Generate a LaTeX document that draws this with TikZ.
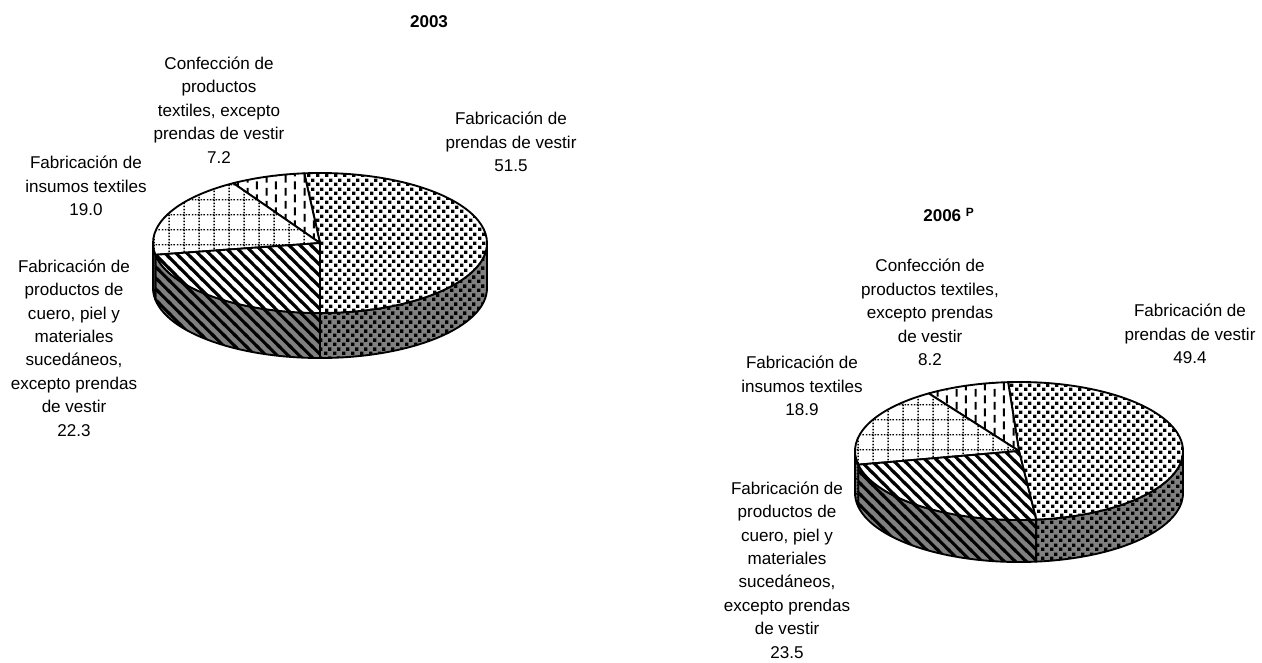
\documentclass[tikz,border=0pt]{standalone}
\usepackage{fontspec}
\setmainfont{Liberation Sans}
\usetikzlibrary{patterns}

% fill patterns of the slices
\pgfdeclarepatternformonly{sqdots}{\pgfqpoint{0pt}{0pt}}{\pgfqpoint{6.4pt}{6.4pt}}{\pgfqpoint{6.4pt}{6.4pt}}{%
  \pgfpathrectangle{\pgfqpoint{0pt}{0pt}}{\pgfqpoint{2.7pt}{2.7pt}}%
  \pgfpathrectangle{\pgfqpoint{3.2pt}{3.2pt}}{\pgfqpoint{2.7pt}{2.7pt}}%
  \pgfusepath{fill}}
\pgfdeclarepatternformonly{vdashes}{\pgfqpoint{0pt}{0pt}}{\pgfqpoint{14pt}{10pt}}{\pgfqpoint{14pt}{10pt}}{%
  \pgfsetlinewidth{1.5pt}%
  \pgfpathmoveto{\pgfqpoint{3.5pt}{1pt}}\pgfpathlineto{\pgfqpoint{3.5pt}{7pt}}%
  \pgfpathmoveto{\pgfqpoint{10.5pt}{6pt}}\pgfpathlineto{\pgfqpoint{10.5pt}{10pt}}%
  \pgfpathmoveto{\pgfqpoint{10.5pt}{0pt}}\pgfpathlineto{\pgfqpoint{10.5pt}{2pt}}%
  \pgfusepath{stroke}}
\pgfdeclarepatternformonly{dotgrid}{\pgfqpoint{0pt}{0pt}}{\pgfqpoint{11pt}{11pt}}{\pgfqpoint{11pt}{11pt}}{%
  \pgfsetlinewidth{1.1pt}\pgfsetdash{{1.1pt}{1.1pt}}{0pt}%
  \pgfpathmoveto{\pgfqpoint{0pt}{5.5pt}}\pgfpathlineto{\pgfqpoint{11pt}{5.5pt}}%
  \pgfpathmoveto{\pgfqpoint{5.5pt}{0pt}}\pgfpathlineto{\pgfqpoint{5.5pt}{11pt}}%
  \pgfusepath{stroke}}
\pgfdeclarepatternformonly{nwstripes}{\pgfqpoint{0pt}{0pt}}{\pgfqpoint{8.5pt}{8.5pt}}{\pgfqpoint{8.5pt}{8.5pt}}{%
  \pgfsetlinewidth{2.5pt}%
  \pgfpathmoveto{\pgfqpoint{-1pt}{9.5pt}}\pgfpathlineto{\pgfqpoint{9.5pt}{-1pt}}%
  \pgfpathmoveto{\pgfqpoint{-1.5pt}{1.5pt}}\pgfpathlineto{\pgfqpoint{1.5pt}{-1.5pt}}%
  \pgfpathmoveto{\pgfqpoint{7pt}{10pt}}\pgfpathlineto{\pgfqpoint{10pt}{7pt}}%
  \pgfusepath{stroke}}

\begin{document}
\begin{tikzpicture}[x=0.75pt, y=0.75pt,
  rim/.style={draw=black, line width=1.4pt, line join=round},
  lbl/.style={align=center, font=\fontsize{12.8}{17.6}\selectfont, inner sep=0pt},
  ttl/.style={font=\fontsize{12.8}{17.6}\selectfont\bfseries, inner sep=0pt}]
\useasboundingbox (0,0) rectangle (1262,662);

% 2003
\begin{scope}[shift={(320,419)}]
	\foreach \a/\b/\p in {270/360/sqdots, 189.7/270/nwstripes, 180/189.7/dotgrid}
		{\draw[rim, preaction={fill=gray}, pattern=\p] (\a:167 and 70) arc[start angle=\a, end angle=\b, x radius=167, y radius=70] -- ++(0,-45) arc[start angle=\b, end angle=\a, x radius=167, y radius=70] -- cycle;}
	\foreach \a/\b/\p in {270/455.4/sqdots, 95.4/121.3/vdashes, 121.3/189.7/dotgrid, 189.7/270/nwstripes}
		{\draw[rim, preaction={fill=white}, pattern=\p] (0,0) -- (\a:167 and 70) arc[start angle=\a, end angle=\b, x radius=167, y radius=70] -- cycle;}
\end{scope}
\node[ttl] (t03) at (429,640) {2003};
\node[lbl] (conf03) at (219,552) {Confección de\\productos\\textiles, excepto\\prendas de vestir\\7.2};
\node[lbl] (fab03) at (511,520) {Fabricación de\\prendas de vestir\\51.5};
\node[lbl] (ins03) at (86,476) {Fabricación de\\insumos textiles\\19.0};
\node[lbl] (cuero03) at (74,314) {Fabricación de\\productos de\\cuero, piel y\\materiales\\sucedáneos,\\excepto prendas\\de vestir\\22.3};

% 2006
\begin{scope}[shift={(1019,211)}]
	\foreach \a/\b/\p in {276/360/sqdots, 191.4/276/nwstripes, 180/191.4/dotgrid}
		{\draw[rim, preaction={fill=gray}, pattern=\p] (\a:164 and 69) arc[start angle=\a, end angle=\b, x radius=164, y radius=69] -- ++(0,-42) arc[start angle=\b, end angle=\a, x radius=164, y radius=69] -- cycle;}
	\foreach \a/\b/\p in {276/453.8/sqdots, 93.8/123.4/vdashes, 123.4/191.4/dotgrid, 191.4/276/nwstripes}
		{\draw[rim, preaction={fill=white}, pattern=\p] (0,0) -- (\a:164 and 69) arc[start angle=\a, end angle=\b, x radius=164, y radius=69] -- cycle;}
\end{scope}
\node[ttl, anchor=west] (t06) at (923,447) {2006 \textsuperscript{P}};
\node[lbl] (conf06) at (930,349.5) {Confección de\\productos textiles,\\excepto prendas\\de vestir\\8.2};
\node[lbl] (fab06) at (1190,328) {Fabricación de\\prendas de vestir\\49.4};
\node[lbl] (ins06) at (802,276) {Fabricación de\\insumos textiles\\18.9};
\node[lbl] (cuero06) at (787,92) {Fabricación de\\productos de\\cuero, piel y\\materiales\\sucedáneos,\\excepto prendas\\de vestir\\23.5};
\end{tikzpicture}
\end{document}
